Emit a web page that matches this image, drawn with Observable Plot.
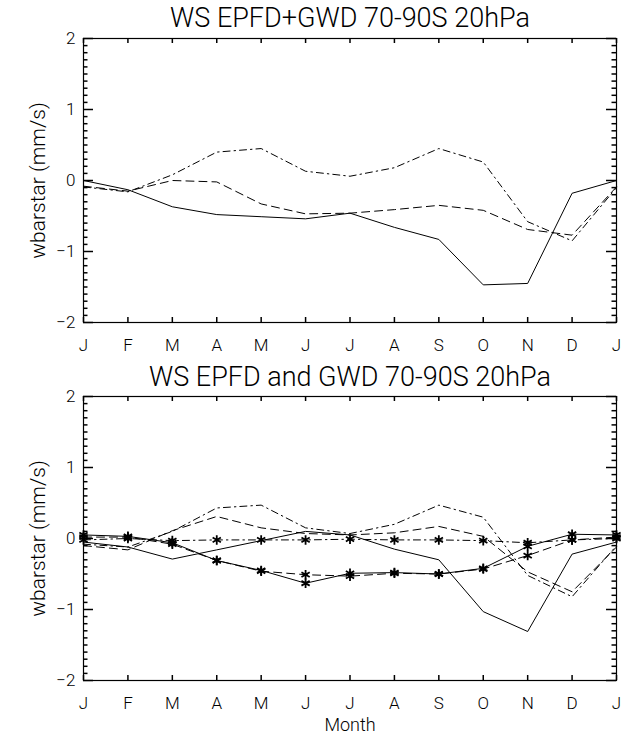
<!DOCTYPE html>
<html>
<head>
<meta charset="utf-8">
<script src="https://cdn.jsdelivr.net/npm/d3@7"></script>
<script src="https://cdn.jsdelivr.net/npm/@observablehq/plot@0.6"></script>
<style>
  html, body { margin: 0; padding: 0; background: #fff; }
  #chart { width: 628px; }
  #chart svg { display: block; }
</style>
</head>
<body>
<div id="chart"></div>
<script>
const monthLabels = ["J","F","M","A","M","J","J","A","S","O","N","D","J"];
const monthIndex = [0,1,2,3,4,5,6,7,8,9,10,11,12];
const yMajor = [-2,-1,0,1,2];
const yMinor = d3.range(-20, 21).map(d => d / 10);

const titleTop = "WS EPFD+GWD 70-90S 20hPa";
const titleBottom = "WS EPFD and GWD 70-90S 20hPa";
const yLabel = "wbarstar (mm/s)";
const xLabel = "Month";

const topSolid   = [0.00, -0.13, -0.37, -0.48, -0.51, -0.54, -0.46, -0.66, -0.83, -1.47, -1.45, -0.18, 0.00];
const topDashed  = [-0.08, -0.15, 0.00, -0.02, -0.33, -0.47, -0.46, -0.41, -0.35, -0.42, -0.69, -0.77, -0.09];
const topDashDot = [-0.09, -0.16, 0.08, 0.40, 0.45, 0.13, 0.06, 0.18, 0.45, 0.26, -0.58, -0.85, -0.10];

const botSolid   = [-0.05, -0.12, -0.29, -0.16, -0.03, 0.10, 0.05, -0.15, -0.30, -1.03, -1.31, -0.22, -0.05];
const botDashed  = [-0.10, -0.16, 0.11, 0.31, 0.15, 0.07, 0.05, 0.08, 0.17, 0.03, -0.47, -0.75, -0.12];
const botDashDot = [-0.08, -0.12, 0.10, 0.43, 0.47, 0.15, 0.07, 0.20, 0.47, 0.30, -0.52, -0.82, -0.10];
const starSolid   = [0.05, 0.03, -0.06, -0.31, -0.45, -0.63, -0.49, -0.48, -0.50, -0.42, -0.11, 0.06, 0.05];
const starDashed  = [0.02, 0.02, -0.08, -0.31, -0.46, -0.51, -0.53, -0.49, -0.50, -0.43, -0.24, -0.02, 0.02];
const starDashDot = [-0.02, 0.00, -0.03, -0.02, -0.02, -0.02, -0.01, -0.02, -0.02, -0.03, -0.06, -0.02, 0.00];

const DASH = "8,5";
const DASHDOT = "7,4,1.5,4";
const FONT = "Roboto, 'DejaVu Sans', sans-serif";

const W = 628, ML = 83, MR = 12;
const PW = W - ML - MR;

function rows(values) {
  return values.map((v, i) => ({x: monthIndex[i], y: v}));
}

function tickRows() {
  return yMinor.map(v => ({v, major: yMajor.includes(v)}));
}

function axisMarks(plotHeight) {
  const majLen = 10 * 12 / PW, minLen = 4.5 * 12 / PW;
  const xLen = 5 * 4 / plotHeight;
  const tk = {stroke: "#000", strokeWidth: 1.5};
  return [
    Plot.frame({stroke: "#000", strokeWidth: 1.2}),
    Plot.ruleY(tickRows(), {...tk, y: "v", x1: () => 0, x2: d => d.major ? majLen : minLen}),
    Plot.ruleY(tickRows(), {...tk, y: "v", x1: d => 12 - (d.major ? majLen : minLen), x2: () => 12}),
    Plot.ruleX(monthIndex.map(m => ({m})), {...tk, x: "m", y1: () => -2, y2: () => -2 + xLen}),
    Plot.ruleX(monthIndex.map(m => ({m})), {...tk, x: "m", y1: () => 2 - xLen, y2: () => 2}),
    Plot.axisY(yMajor, {anchor: "left", tickSize: 0, tickPadding: 8, label: null, fontSize: 17,
      tickFormat: d => d < 0 ? "\u2212" + Math.abs(d) : String(d)}),
    Plot.axisX(monthIndex, {anchor: "bottom", tickSize: 0, tickPadding: 16, label: null, fontSize: 17,
      tickFormat: i => monthLabels[i]}),
    Plot.text([yLabel], {frameAnchor: "left", rotate: -90, dx: -45, textAnchor: "middle", fontSize: 21})
  ];
}

function seriesLine(values, dash) {
  return Plot.line(rows(values), {x: "x", y: "y", stroke: "#000", strokeWidth: 1, strokeDasharray: dash});
}
function seriesStars(values) {
  return Plot.dot(rows(values), {x: "x", y: "y", symbol: "asterisk", r: 4.5, stroke: "#000", strokeWidth: 1.8});
}

const common = {
  width: W,
  marginLeft: ML,
  marginRight: MR,
  x: {domain: [0, 12]},
  y: {domain: [-2, 2]},
  style: {fontFamily: FONT, fontWeight: 300, color: "#000", background: "#fff"}
};

const topH = 362, topMT = 38, topMB = 40;
const topPanel = Plot.plot({
  ...common,
  height: topH,
  marginTop: topMT,
  marginBottom: topMB,
  marks: [
    ...axisMarks(topH - topMT - topMB),
    seriesLine(topSolid, null),
    seriesLine(topDashed, DASH),
    seriesLine(topDashDot, DASHDOT),
    Plot.text([titleTop], {frameAnchor: "top", dy: -20, fontSize: 27, lineAnchor: "middle"})
  ]
});

const botH = 376, botMT = 34, botMB = 58;
const bottomPanel = Plot.plot({
  ...common,
  height: botH,
  marginTop: botMT,
  marginBottom: botMB,
  marks: [
    ...axisMarks(botH - botMT - botMB),
    seriesLine(botSolid, null),
    seriesLine(botDashed, DASH),
    seriesLine(botDashDot, DASHDOT),
    seriesLine(starSolid, null),
    seriesLine(starDashed, DASH),
    seriesLine(starDashDot, DASHDOT),
    seriesStars(starSolid),
    seriesStars(starDashed),
    seriesStars(starDashDot),
    Plot.text([titleBottom], {frameAnchor: "top", dy: -19, fontSize: 27, lineAnchor: "middle"}),
    Plot.text([xLabel], {frameAnchor: "bottom", dy: 45, fontSize: 18, lineAnchor: "middle"})
  ]
});

const el = document.getElementById("chart");
el.appendChild(topPanel);
el.appendChild(bottomPanel);
</script>
</body>
</html>
